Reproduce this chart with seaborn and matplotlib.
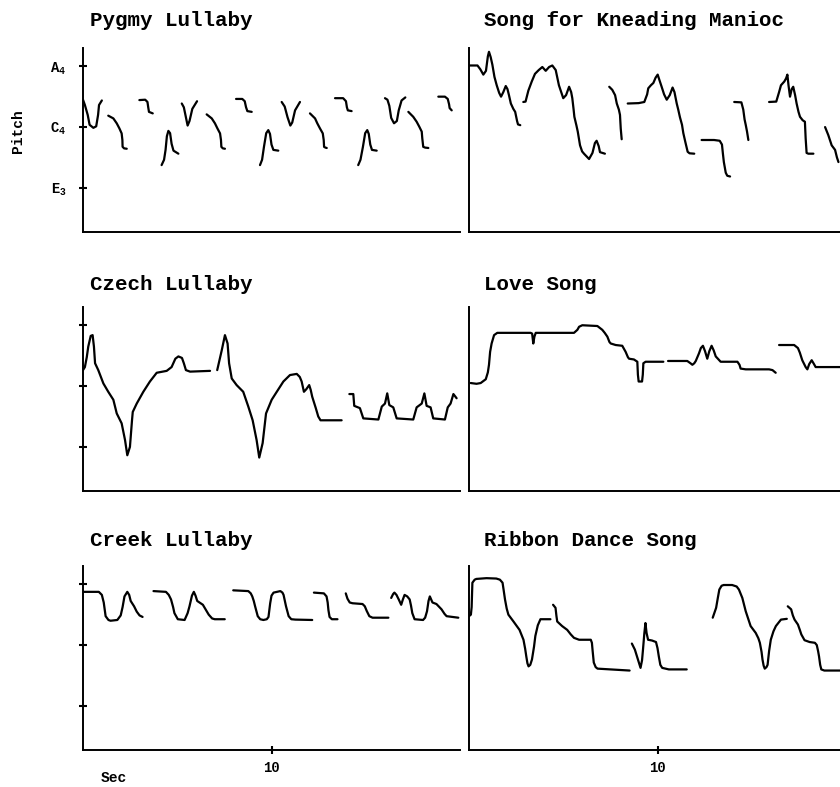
#
# Pitch contours of six songs, redrawn with seaborn
#

import pandas as pd
import matplotlib
matplotlib.use("Agg")
from matplotlib import pyplot as plt
import seaborn as sns

#
# Data: each song is a list of sung phrases, each phrase a list of
# (time in seconds, pitch in semitones relative to C4)
#

pygmy_lullaby = [
    [(0.0, 3.6), (0.1, 2.9), (0.25, 1.6), (0.35, 0.3), (0.55, -0.1), (0.7, 0.1), (0.8, 1.6), (0.85, 2.9), (1.0, 3.5)],
    [(1.34, 1.5), (1.61, 1.14), (1.79, 0.49), (1.93, -0.17), (2.05, -0.83), (2.09, -1.71), (2.1, -2.59), (2.18, -2.8), (2.32, -2.85)],
    [(2.99, 3.55), (3.3, 3.6), (3.42, 3.3), (3.46, 2.6), (3.5, 2.0), (3.7, 1.8)],
    [(4.17, -5.0), (4.3, -4.3), (4.38, -3.0), (4.45, -1.2), (4.53, -0.5), (4.62, -0.8), (4.7, -2.2), (4.8, -3.1), (5.06, -3.5)],
    [(5.24, 3.1), (5.35, 2.6), (5.45, 1.4), (5.55, 0.2), (5.65, 0.8), (5.8, 2.4), (6.05, 3.4)],
    [(6.56, 1.67), (6.83, 1.14), (7.0, 0.49), (7.13, -0.17), (7.27, -0.83), (7.32, -1.71), (7.34, -2.6), (7.42, -2.8), (7.53, -2.85)],
    [(8.12, 3.7), (8.45, 3.7), (8.58, 3.4), (8.65, 2.6), (8.72, 2.1), (8.95, 2.0)],
    [(9.39, -5.0), (9.5, -4.3), (9.6, -2.6), (9.72, -0.8), (9.83, -0.4), (9.92, -0.9), (10.0, -2.3), (10.1, -3.0), (10.36, -3.1)],
    [(10.54, 3.3), (10.7, 2.7), (10.85, 1.3), (11.0, 0.2), (11.1, 0.6), (11.25, 2.2), (11.51, 3.3)],
    [(12.04, 1.8), (12.31, 1.14), (12.43, 0.49), (12.57, -0.17), (12.72, -0.83), (12.77, -1.71), (12.79, -2.6), (12.86, -2.7), (12.93, -2.75)],
    [(13.37, 3.8), (13.8, 3.8), (13.95, 3.4), (14.0, 2.6), (14.05, 2.2), (14.25, 2.1)],
    [(14.6, -5.0), (14.72, -4.3), (14.85, -2.6), (14.97, -0.8), (15.08, -0.4), (15.16, -0.9), (15.24, -2.3), (15.33, -3.0), (15.58, -3.1)],
    [(16.02, 3.8), (16.15, 3.6), (16.25, 2.8), (16.35, 1.2), (16.5, 0.5), (16.65, 0.8), (16.75, 2.2), (16.9, 3.5), (17.1, 3.9)],
    [(17.26, 2.0), (17.52, 1.35), (17.7, 0.7), (17.84, 0.05), (17.97, -0.6), (18.0, -1.5), (18.05, -2.6), (18.15, -2.7), (18.32, -2.75)],
    [(18.85, 4.0), (19.2, 4.0), (19.35, 3.7), (19.42, 3.0), (19.45, 2.5), (19.56, 2.2)],
]

manioc_song = [
    [(0.0, 8.1), (0.45, 8.1), (0.6, 7.6), (0.76, 6.9), (0.9, 7.4), (1.0, 9.3), (1.06, 9.9), (1.15, 9.2), (1.24, 8.2),
     (1.35, 6.6), (1.47, 5.5), (1.6, 4.5), (1.7, 4.0), (1.82, 4.6), (1.95, 5.4), (2.04, 5.0), (2.12, 4.2), (2.22, 3.1),
     (2.35, 2.4), (2.45, 2.0), (2.55, 0.8), (2.6, 0.35), (2.72, 0.25)],
    [(2.88, 3.3), (3.0, 3.35), (3.15, 4.8), (3.33, 6.0), (3.5, 7.0), (3.7, 7.5), (3.89, 7.9), (4.07, 7.4), (4.25, 7.9),
     (4.42, 8.1), (4.6, 7.5), (4.77, 5.5), (5.0, 3.8), (5.15, 4.2), (5.31, 5.3), (5.42, 4.6), (5.48, 3.8), (5.55, 2.3),
     (5.59, 1.35), (5.7, 0.2), (5.77, -0.6), (5.85, -1.8), (5.89, -2.4), (6.0, -3.2), (6.1, -3.5), (6.37, -4.2),
     (6.55, -3.4), (6.68, -2.1), (6.77, -1.8), (6.88, -2.5), (6.95, -3.3), (7.21, -3.5)],
    [(7.44, 5.3), (7.6, 4.9), (7.75, 4.2), (7.84, 3.1), (7.95, 2.3), (8.01, 1.6), (8.05, -0.2), (8.1, -1.6)],
    [(8.42, 3.1), (9.0, 3.15), (9.3, 3.3), (9.45, 4.3), (9.51, 5.1), (9.65, 5.5), (9.78, 5.8), (9.9, 6.5), (10.01, 6.9),
     (10.1, 6.2), (10.22, 5.3), (10.35, 4.3), (10.49, 3.6), (10.65, 4.2), (10.8, 5.2), (10.9, 4.6), (11.02, 3.1),
     (11.1, 2.3), (11.19, 1.3), (11.3, 0.3), (11.37, -0.8), (11.48, -2.0), (11.6, -3.25), (11.7, -3.45), (11.95, -3.5)],
    [(12.34, -1.7), (13.0, -1.7), (13.3, -1.8), (13.42, -2.3), (13.47, -3.5), (13.52, -4.6), (13.62, -6.0), (13.7, -6.4), (13.85, -6.5)],
    [(14.07, 3.3), (14.45, 3.25), (14.55, 2.3), (14.62, 1.0), (14.68, 0.3), (14.75, -0.6), (14.82, -1.7)],
    [(15.92, 3.3), (16.3, 3.35), (16.45, 4.6), (16.55, 5.5), (16.73, 6.0), (16.82, 6.4), (16.89, 6.9), (16.95, 5.5),
     (17.03, 4.0), (17.12, 5.0), (17.2, 5.3), (17.3, 4.2), (17.38, 3.1), (17.48, 2.0), (17.56, 1.35), (17.7, 0.9),
     (17.82, 0.7), (17.86, -1.5), (17.91, -3.4), (18.0, -3.5), (18.27, -3.5)],
    [(18.89, 0.0), (19.06, -1.05), (19.24, -2.4), (19.42, -3.0), (19.52, -4.0), (19.6, -4.6)],
]

czech_lullaby = [
    [(0.0, 2.1), (0.1, 2.5), (0.2, 3.8), (0.28, 5.2), (0.41, 6.6), (0.51, 6.7), (0.58, 5.2), (0.64, 3.0), (0.81, 2.1),
     (1.08, 0.35), (1.34, -0.75), (1.61, -1.8), (1.79, -3.6), (2.05, -4.9), (2.23, -7.1), (2.35, -9.1), (2.49, -8.0),
     (2.6, -4.5), (2.64, -3.4), (2.85, -2.3), (3.2, -0.75), (3.55, 0.6), (3.91, 1.75), (4.44, 2.0), (4.7, 2.5),
     (4.9, 3.6), (5.06, 3.9), (5.25, 3.7), (5.35, 3.0), (5.46, 2.1), (5.68, 1.9), (6.74, 2.0)],
    [(7.12, 2.1), (7.36, 4.7), (7.53, 6.7), (7.67, 5.6), (7.75, 3.0), (7.89, 1.0), (8.15, 0.13), (8.5, -0.75),
     (8.77, -2.7), (9.0, -4.5), (9.21, -7.1), (9.35, -9.4), (9.53, -7.5), (9.71, -3.6), (10.01, -1.8), (10.28, -0.75),
     (10.63, 0.6), (10.98, 1.45), (11.34, 1.6), (11.5, 1.2), (11.6, 0.6), (11.72, -0.75), (11.85, -0.4), (12.0, 0.13),
     (12.08, -0.5), (12.16, -1.4), (12.35, -2.9), (12.48, -4.0), (12.6, -4.5), (13.72, -4.5)],
    [(14.13, -1.05), (14.34, -1.05), (14.39, -2.6), (14.69, -2.9), (14.87, -4.25), (15.67, -4.4), (15.85, -2.7),
     (16.02, -2.3), (16.14, -0.96), (16.25, -2.5), (16.46, -2.8), (16.64, -4.25), (17.52, -4.4), (17.7, -2.8),
     (17.97, -2.3), (18.11, -0.96), (18.23, -2.6), (18.44, -2.8), (18.58, -4.25), (19.2, -4.4), (19.35, -2.8),
     (19.5, -2.3), (19.65, -1.05), (19.82, -1.6)],
]

love_song = [
    [(0.09, 0.4), (0.4, 0.3), (0.62, 0.4), (0.89, 0.9), (1.0, 1.8), (1.06, 2.8), (1.12, 4.5), (1.2, 5.6), (1.33, 6.7),
     (1.5, 7.0), (3.27, 7.0), (3.35, 6.9), (3.41, 5.6), (3.47, 6.5), (3.54, 7.0), (5.57, 7.0), (5.75, 7.4), (5.84, 7.8),
     (6.01, 8.0), (6.81, 7.9), (7.07, 7.4), (7.2, 7.0), (7.34, 6.5), (7.45, 5.8), (7.52, 5.6), (7.78, 5.4), (8.13, 5.3),
     (8.31, 4.5), (8.43, 3.8), (8.49, 3.6), (8.75, 3.5), (8.93, 3.2), (8.96, 1.5), (9.0, 0.6), (9.18, 0.6), (9.22, 1.5),
     (9.25, 3.0), (9.37, 3.2), (10.31, 3.2)],
    [(10.56, 3.3), (11.58, 3.3), (11.75, 3.0), (11.85, 2.8), (11.95, 3.0), (12.03, 3.3), (12.2, 4.3), (12.3, 5.0),
     (12.41, 5.3), (12.52, 4.6), (12.64, 3.6), (12.75, 4.6), (12.87, 5.3), (12.98, 4.7), (13.09, 3.9), (13.35, 3.2),
     (14.24, 3.2), (14.35, 2.8), (14.41, 2.3), (14.68, 2.2), (15.92, 2.2), (16.1, 2.1), (16.27, 1.75)],
    [(16.45, 5.4), (17.25, 5.4), (17.45, 5.0), (17.55, 4.4), (17.68, 3.4), (17.86, 2.5), (17.95, 2.2), (18.05, 2.9),
     (18.18, 3.4), (18.3, 2.9), (18.39, 2.5), (18.66, 2.5), (19.7, 2.5)],
]

creek_lullaby = [
    [(0.0, 7.0), (0.84, 7.0), (1.0, 6.6), (1.1, 5.6), (1.2, 3.8), (1.35, 3.3), (1.46, 3.2), (1.82, 3.3), (2.0, 3.9),
     (2.1, 5.0), (2.2, 6.4), (2.35, 7.0), (2.45, 6.6), (2.53, 5.8), (2.71, 5.1), (2.85, 4.4), (3.0, 3.9), (3.16, 3.7)],
    [(3.74, 7.1), (4.4, 7.0), (4.55, 6.6), (4.67, 6.0), (4.78, 5.0), (4.85, 4.2), (5.03, 3.4), (5.39, 3.3), (5.55, 4.2),
     (5.65, 5.1), (5.78, 6.5), (5.88, 7.0), (5.97, 6.5), (6.06, 5.8), (6.36, 5.3), (6.55, 4.5), (6.67, 4.0), (6.85, 3.5),
     (6.99, 3.4), (7.52, 3.4)],
    [(7.97, 7.2), (8.77, 7.1), (8.9, 6.8), (8.98, 6.4), (9.06, 5.8), (9.13, 5.1), (9.27, 3.8), (9.4, 3.4), (9.57, 3.3),
     (9.75, 3.4), (9.84, 3.7), (9.93, 5.5), (10.0, 6.5), (10.11, 6.9), (10.47, 7.1), (10.58, 6.9), (10.64, 6.6),
     (10.77, 5.1), (10.91, 3.8), (11.05, 3.4), (11.27, 3.35), (12.16, 3.3)],
    [(12.25, 6.9), (12.78, 6.8), (12.92, 6.4), (12.98, 5.6), (13.02, 4.6), (13.08, 3.7), (13.2, 3.4), (13.5, 3.4)],
    [(13.94, 6.8), (14.03, 6.1), (14.15, 5.6), (14.3, 5.5), (14.83, 5.4), (14.95, 5.1), (15.05, 4.5), (15.19, 3.8),
     (15.36, 3.6), (16.2, 3.6)],
    [(16.35, 6.2), (16.45, 6.7), (16.52, 6.9), (16.63, 6.6), (16.75, 6.0), (16.88, 5.3), (16.97, 6.0), (17.06, 6.6),
     (17.2, 6.4), (17.33, 6.0), (17.4, 5.2), (17.47, 4.2), (17.59, 3.4), (18.04, 3.3), (18.15, 3.6), (18.25, 4.45),
     (18.33, 5.8), (18.4, 6.4), (18.54, 5.6), (18.75, 5.4), (19.02, 4.7), (19.18, 4.1), (19.29, 3.8), (19.91, 3.6)],
]

ribbon_dance = [
    [(0.0, 3.8), (0.1, 4.0), (0.14, 5.0), (0.18, 8.2), (0.3, 8.6), (0.39, 8.7), (0.93, 8.8), (1.45, 8.75), (1.64, 8.6),
     (1.78, 8.2), (1.84, 7.2), (1.91, 6.0), (2.0, 4.8), (2.09, 4.0), (2.36, 3.1), (2.68, 2.0), (2.89, 0.7), (2.98, -0.5),
     (3.04, -1.5), (3.1, -2.4), (3.16, -2.8), (3.25, -2.6), (3.34, -1.9), (3.45, -0.2), (3.52, 1.2), (3.65, 2.6),
     (3.79, 3.4), (4.32, 3.4)],
    [(4.46, 5.3), (4.59, 4.9), (4.64, 3.8), (4.68, 3.1), (4.94, 2.5), (5.21, 2.0), (5.4, 1.4), (5.57, 0.95), (5.84, 0.7),
     (6.46, 0.7), (6.52, 0.3), (6.56, -0.8), (6.62, -2.3), (6.72, -2.9), (6.82, -3.1), (7.5, -3.2), (8.52, -3.35)],
    [(8.64, 0.2), (8.8, -0.6), (8.95, -1.8), (9.1, -3.0), (9.18, -2.0), (9.23, -0.6), (9.3, 1.5), (9.36, 2.9), (9.42, 1.6),
     (9.5, 0.7), (9.71, 0.6), (9.92, 0.4), (10.0, -0.4), (10.07, -1.5), (10.15, -2.6), (10.25, -3.0), (10.6, -3.2),
     (11.55, -3.2)],
    [(12.93, 3.6), (13.11, 4.9), (13.2, 6.2), (13.28, 7.3), (13.4, 7.8), (13.51, 7.9), (13.96, 7.9), (14.2, 7.7),
     (14.32, 7.3), (14.5, 6.2), (14.68, 4.45), (14.94, 2.5), (15.21, 1.6), (15.35, 0.9), (15.43, 0.3), (15.52, -0.9),
     (15.57, -1.9), (15.63, -2.7), (15.69, -3.1), (15.78, -2.9), (15.84, -2.6), (15.92, -0.8), (16.01, 0.7),
     (16.15, 1.8), (16.28, 2.5), (16.55, 3.35), (16.86, 3.45)],
    [(16.91, 5.1), (17.09, 4.7), (17.18, 3.9), (17.27, 3.35), (17.45, 2.7), (17.55, 2.0), (17.63, 1.4), (17.8, 0.64),
     (18.07, 0.4), (18.35, 0.3), (18.45, 0.0), (18.52, -0.8), (18.57, -1.5), (18.63, -2.6), (18.69, -3.2),
     (18.85, -3.35), (19.8, -3.35)],
]

titles = ["Pygmy Lullaby", "Song for Kneading Manioc",
          "Czech Lullaby", "Love Song",
          "Creek Lullaby", "Ribbon Dance Song"]
songs = [pygmy_lullaby, manioc_song, czech_lullaby, love_song, creek_lullaby, ribbon_dance]

pitch_ticks = [-8, 0, 8]
pitch_labels = ["E$_3$", "C$_4$", "A$_4$"]
time_ticks = [10]
time_labels = ["10"]


def to_frame(segments):
    rows = []
    for k, seg in enumerate(segments):
        for t, p in seg:
            rows.append({"phrase": k, "time": t, "pitch": p})
    return pd.DataFrame(rows)


#
# Plotting
#

sns.set_style("white")
plt.rcParams["font.family"] = ["Liberation Mono", "DejaVu Sans Mono"]
plt.rcParams["font.weight"] = "bold"
plt.rcParams["mathtext.fontset"] = "custom"
plt.rcParams["mathtext.rm"] = "Liberation Mono:bold"
plt.rcParams["mathtext.it"] = "Liberation Mono:bold"
plt.rcParams["text.color"] = "black"
plt.rcParams["xtick.color"] = "black"
plt.rcParams["ytick.color"] = "black"

W, H = 840, 787
fig = plt.figure(figsize=(W / 100, H / 100), dpi=100)

col_left = [83, 469]          # pixel x of the y axis
row_bottom = [232, 491, 750]  # pixel y of the x axis
ax_w, ax_h = 377, 184
title_y = [20, 284, 541]
title_x = [90, 484]

for i, (song, title) in enumerate(zip(songs, titles)):
    r, c = divmod(i, 2)
    ax = fig.add_axes([col_left[c] / W, 1 - row_bottom[r] / H, ax_w / W, ax_h / H])
    df = to_frame(song)
    sns.lineplot(data=df, x="time", y="pitch", units="phrase", estimator=None,
                 sort=False, color="black", linewidth=1.6, ax=ax)
    ax.set_xlim(0, 20)
    ax.set_ylim(-13.8, 10.4)
    for side in ["top", "right"]:
        ax.spines[side].set_visible(False)
    for side in ["left", "bottom"]:
        ax.spines[side].set_linewidth(1.4)
        ax.spines[side].set_color("black")
    ax.set_xlabel("")
    ax.set_ylabel("")

    if c == 0:
        ax.set_yticks(pitch_ticks)
        ax.set_yticklabels(pitch_labels if r == 0 else [])
        ax.tick_params(axis="y", direction="inout", length=6, width=1.5,
                       pad=9, labelsize=10, left=True, labelcolor="black")
    else:
        ax.set_yticks([])

    if r == 2:
        ax.set_xticks(time_ticks)
        ax.set_xticklabels(time_labels)
        ax.tick_params(axis="x", direction="inout", length=6, width=1.5,
                       pad=5, labelsize=10, bottom=True, labelcolor="black")
    else:
        ax.set_xticks([])

    fig.text(title_x[c] / W, 1 - title_y[r] / H, title, ha="left", va="center",
             fontsize=15, fontweight="bold", color="black")

fig.text(18 / W, 1 - 131 / H, "Pitch", rotation=90, ha="center", va="center",
         fontsize=10.5, fontweight="bold", color="black")
fig.text(114 / W, 1 - 778 / H, "Sec", ha="center", va="center",
         fontsize=10.5, fontweight="bold", color="black")

plt.savefig("out.png", dpi=100)
